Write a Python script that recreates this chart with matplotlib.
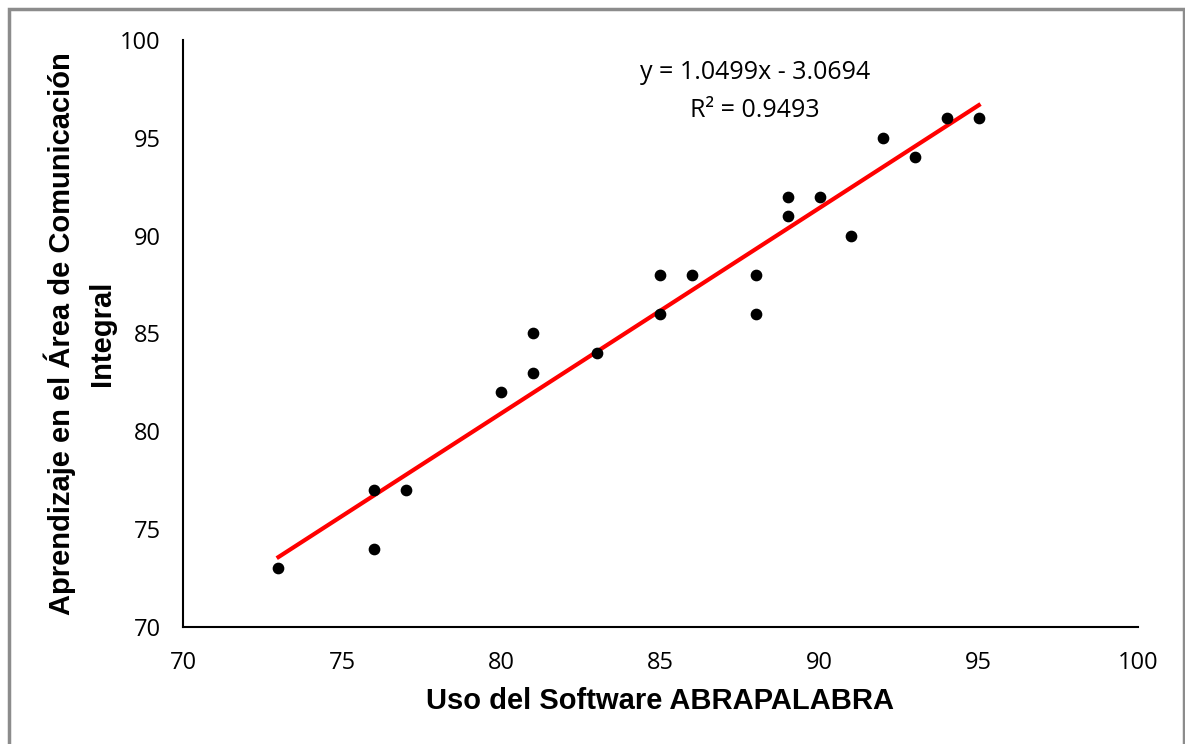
import numpy as np
import matplotlib.pyplot as plt
from matplotlib.patches import Rectangle

# data
uso_software = [73, 76, 76, 77, 80, 81, 81, 83, 85, 85, 86, 88, 88, 89, 89, 90, 91, 92, 93, 94, 95]
aprendizaje = [73, 77, 74, 77, 82, 85, 83, 84, 88, 86, 88, 88, 86, 92, 91, 92, 90, 95, 94, 96, 96]
trend_slope = 1.0499
trend_intercept = -3.0694
r_squared = 0.9493

fig = plt.figure(figsize=(11.85, 7.44), dpi=100)
ax = fig.add_axes([0.1544, 0.1573, 0.8059, 0.7889])

# chart frame
fig.patches.append(Rectangle((9 / 1185, -0.01), (1184 - 9) / 1185, (735 + 0.01 * 744) / 744,
                             transform=fig.transFigure, fill=False,
                             edgecolor='#8c8c8c', linewidth=2.5))

x_line = np.array([min(uso_software), max(uso_software)])
ax.plot(x_line, trend_slope * x_line + trend_intercept, color='#ff0000', linewidth=3, zorder=2)
ax.scatter(uso_software, aprendizaje, s=55, color='black', zorder=3)

ax.set_xlim(70, 100)
ax.set_ylim(70, 100)
ax.set_xticks(range(70, 101, 5))
ax.set_yticks(range(70, 101, 5))
ax.tick_params(length=0, labelsize=17)
ax.tick_params(axis='x', pad=17)
ax.tick_params(axis='y', pad=16)
for lab in ax.get_xticklabels() + ax.get_yticklabels():
    lab.set_family('Open Sans')
ax.spines['top'].set_visible(False)
ax.spines['right'].set_visible(False)
ax.spines['left'].set_linewidth(1.5)
ax.spines['bottom'].set_linewidth(1.5)

ax.set_xlabel('Uso del Software ABRAPALABRA', fontsize=21, fontweight='bold',
              family='Liberation Sans', labelpad=9)
ax.set_ylabel('Aprendizaje en el Área de Comunicación\nIntegral', fontsize=21,
              fontweight='bold', family='Liberation Sans', labelpad=3, linespacing=1.55)

ax.text(87.97, 98.36, f'y = {trend_slope}x - {abs(trend_intercept)}',
        ha='center', va='center', fontsize=18, family='Open Sans')
ax.text(87.97, 96.42, f'R² = {r_squared}',
        ha='center', va='center', fontsize=18, family='Open Sans')

fig.savefig('out.png', dpi=100)
